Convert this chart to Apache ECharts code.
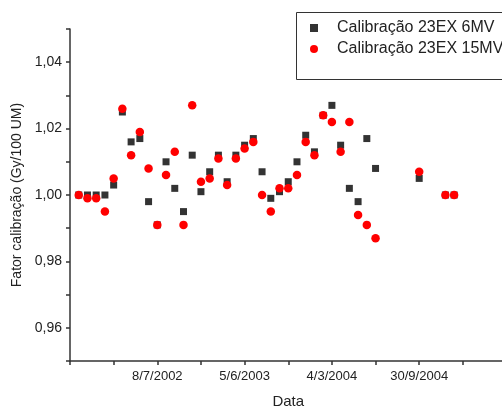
<!DOCTYPE html>
<html>
<head>
<meta charset="utf-8">
<script src="https://cdn.jsdelivr.net/npm/echarts@6/dist/echarts.min.js"></script>
<style>
  html, body { margin: 0; padding: 0; background: #fff; }
  #chart { width: 502px; height: 407px; }
</style>
</head>
<body>
<div id="chart"></div>
<script>
// measurement index (x) and calibration factors for each beam
const idx = [1, 2, 3, 4, 5, 6, 7, 8, 9, 10, 11, 12, 13, 14, 15, 16, 17, 18, 19, 20,
  21, 22, 23, 24, 25, 26, 27, 28, 29, 30, 31, 32, 33, 34, 35, 40, 43, 44];
const mv6 = [1.000, 1.000, 1.000, 1.000, 1.003, 1.025, 1.016, 1.017, 0.998, 0.991,
  1.010, 1.002, 0.995, 1.012, 1.001, 1.007, 1.012, 1.004, 1.012, 1.015,
  1.017, 1.007, 0.999, 1.001, 1.004, 1.010, 1.018, 1.013, 1.024, 1.027,
  1.015, 1.002, 0.998, 1.017, 1.008, 1.005, 1.000, 1.000];
const mv15 = [1.000, 0.999, 0.999, 0.995, 1.005, 1.026, 1.012, 1.019, 1.008, 0.991,
  1.006, 1.013, 0.991, 1.027, 1.004, 1.005, 1.011, 1.003, 1.011, 1.014,
  1.016, 1.000, 0.995, 1.002, 1.002, 1.006, 1.016, 1.012, 1.024, 1.022,
  1.013, 1.022, 0.994, 0.991, 0.987, 1.007, 1.000, 1.000];
const xTickPos = [10, 20, 30, 40];
const xTickText = ['8/7/2002', '5/6/2003', '4/3/2004', '30/9/2004'];

const font = 'Liberation Sans, Arial, sans-serif';
const axisColor = '#333';

const chart = echarts.init(document.getElementById('chart'));
chart.setOption({
  animation: false,
  backgroundColor: '#fff',
  grid: {left: 70, top: 29, width: 436.5, height: 332, outerBoundsMode: 'none'},
  // legend frame runs off the right edge, like the original
  graphic: [{
    type: 'rect',
    shape: {x: 296.5, y: 12.5, width: 230, height: 67},
    style: {fill: '#fff', stroke: axisColor, lineWidth: 1},
    z: 0
  }],
  legend: {
    orient: 'vertical',
    left: 296,
    top: 12,
    padding: [8, 0, 0, 14],
    itemWidth: 8,
    itemHeight: 8,
    itemGap: 5,
    z: 10,
    textStyle: {fontFamily: font, fontSize: 16, color: '#222', padding: [0, 0, 0, 14], lineHeight: 14},
    data: [
      {name: 'Calibração 23EX 6MV', icon: 'rect'},
      {name: 'Calibração 23EX 15MV', icon: 'circle'}
    ]
  },
  xAxis: {
    type: 'value',
    min: 0,
    max: 50,
    interval: 5,
    name: 'Data',
    nameLocation: 'middle',
    nameGap: 33,
    nameTextStyle: {fontFamily: font, fontSize: 15, color: '#222'},
    splitLine: {show: false},
    axisLine: {lineStyle: {color: axisColor, width: 1.5}},
    axisTick: {length: 4, lineStyle: {color: axisColor, width: 1.5}},
    axisLabel: {
      fontFamily: font, fontSize: 13, color: '#222', margin: 9,
      formatter(v) {
        const k = xTickPos.indexOf(Math.round(v));
        return k >= 0 ? xTickText[k] : '';
      }
    }
  },
  yAxis: {
    type: 'value',
    min: 0.95,
    max: 1.05,
    interval: 0.01,
    name: 'Fator calibração (Gy/100 UM)',
    nameLocation: 'middle',
    nameRotate: 90,
    nameGap: 45,
    nameTextStyle: {fontFamily: font, fontSize: 14, color: '#222'},
    splitLine: {show: false},
    axisLine: {lineStyle: {color: axisColor, width: 1.5}},
    axisTick: {length: 4, lineStyle: {color: axisColor, width: 1.5}},
    axisLabel: {
      fontFamily: font, fontSize: 14, color: '#222', margin: 8,
      formatter(v) {
        const h = Math.round(v * 100);
        if (h % 2 !== 0) return '';
        return (h / 100).toFixed(2).replace('.', ',');
      }
    }
  },
  series: [
    {
      name: 'Calibração 23EX 6MV',
      type: 'scatter',
      symbol: 'rect',
      symbolSize: 7,
      itemStyle: {color: '#000'},
      data: idx.map((x, i) => [x, mv6[i]])
    },
    {
      name: 'Calibração 23EX 15MV',
      type: 'scatter',
      symbol: 'circle',
      symbolSize: 8.5,
      itemStyle: {color: '#f00', opacity: 1},
      data: idx.map((x, i) => [x, mv15[i]])
    }
  ]
});
</script>
</body>
</html>
